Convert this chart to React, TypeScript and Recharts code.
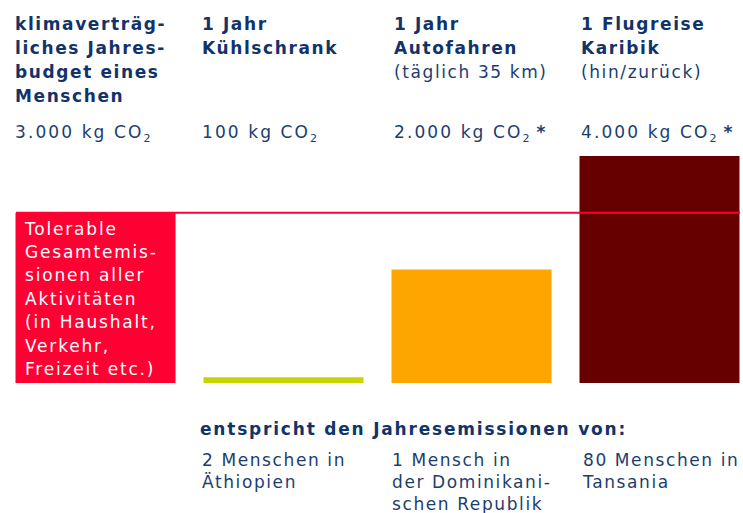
import React from 'react';
import { BarChart, Bar, XAxis, YAxis, Cell, ReferenceLine } from 'recharts';

const categories = ['Budget', 'Kühlschrank', 'Autofahren', 'Flugreise'];
const values = [3000, 100, 2000, 4000];
const barColors = ['#ff0033', '#c8d400', '#ffa500', '#660000'];
const budgetValue = 3000;

const headerBold = [
  ['klimaverträg-', 'liches Jahres-', 'budget eines', 'Menschen'],
  ['1 Jahr', 'Kühlschrank'],
  ['1 Jahr', 'Autofahren'],
  ['1 Flugreise', 'Karibik'],
];
const headerNote = [[], [], ['(täglich 35 km)'], ['(hin/zurück)']];
const amountLabels = ['3.000 kg', '100 kg', '2.000 kg', '4.000 kg'];
const amountStar = [false, false, true, true];
const toleranceLines = [
  'Tolerable',
  'Gesamtemis-',
  'sionen aller',
  'Aktivitäten',
  '(in Haushalt,',
  'Verkehr,',
  'Freizeit etc.)',
];
const equivalentTitle = 'entspricht den Jahresemissionen von:';
const equivalents = [
  [],
  ['2 Menschen in', 'Äthiopien'],
  ['1 Mensch in', 'der Dominikani-', 'schen Republik'],
  ['80 Menschen in', 'Tansania'],
];

const data = categories.map((c, i) => ({ cat: c, v: values[i] }));

const NAVY = '#1b3e6f';
const NAVY_BOLD = '#12336a';
const FONT = '"DejaVu Sans", Verdana, sans-serif';
const colX = [15, 202, 394, 581];
const eqX = [15, 202, 392, 583];

export default function App() {
  return (
    <div
      style={{
        position: 'absolute',
        left: 0,
        top: 0,
        width: 743,
        height: 513,
        overflow: 'hidden',
        background: '#ffffff',
        fontFamily: FONT,
      }}
    >
      <BarChart
        width={743}
        height={513}
        data={data}
        margin={{ top: 156, right: 3, bottom: 130, left: 16 }}
      >
        <XAxis dataKey="cat" hide padding={{ left: -14.5, right: -13.5 }} />
        <YAxis hide domain={[0, 4000]} />
        <Bar dataKey="v" barSize={160} isAnimationActive={false}>
          {data.map((d, i) => (
            <Cell key={d.cat} fill={barColors[i]} />
          ))}
        </Bar>
        <ReferenceLine y={budgetValue} stroke="#ff0033" strokeWidth={2} ifOverflow="visible" />
      </BarChart>

      {headerBold.map((lines, i) => (
        <div
          key={'h' + i}
          style={{
            position: 'absolute',
            left: colX[i],
            top: 11.7,
            fontSize: 17,
            lineHeight: '24px',
            color: NAVY,
            letterSpacing: 1.6,
            whiteSpace: 'nowrap',
          }}
        >
          {lines.map((l) => (
            <div key={l} style={{ fontWeight: 'bold', color: NAVY_BOLD }}>{l}</div>
          ))}
          {headerNote[i].map((l) => (
            <div key={l}>{l}</div>
          ))}
        </div>
      ))}

      {amountLabels.map((a, i) => (
        <div
          key={'a' + i}
          style={{
            position: 'absolute',
            left: colX[i],
            top: 119.7,
            fontSize: 17,
            lineHeight: '24px',
            color: NAVY,
            letterSpacing: 2.1,
            whiteSpace: 'nowrap',
          }}
        >
          {a} CO
          <span style={{ fontSize: 11, position: 'relative', top: 4 }}>2</span>
          {amountStar[i] ? <span style={{ marginLeft: 5, fontWeight: 'bold' }}>*</span> : null}
        </div>
      ))}

      <div
        style={{
          position: 'absolute',
          left: 25,
          top: 217.5,
          fontSize: 17,
          lineHeight: '23.4px',
          color: '#ffffff',
          letterSpacing: 1.8,
          whiteSpace: 'nowrap',
        }}
      >
        {toleranceLines.map((l) => (
          <div key={l}>{l}</div>
        ))}
      </div>

      <div
        style={{
          position: 'absolute',
          left: 200,
          top: 416.5,
          fontSize: 17,
          lineHeight: '24px',
          color: NAVY_BOLD,
          fontWeight: 'bold',
          letterSpacing: 1.8,
          whiteSpace: 'nowrap',
        }}
      >
        {equivalentTitle}
      </div>

      {equivalents.map((lines, i) => (
        <div
          key={'e' + i}
          style={{
            position: 'absolute',
            left: eqX[i],
            top: 449,
            fontSize: 17,
            lineHeight: '22px',
            color: NAVY,
            letterSpacing: 1.6,
            whiteSpace: 'nowrap',
          }}
        >
          {lines.map((l) => (
            <div key={l}>{l}</div>
          ))}
        </div>
      ))}
    </div>
  );
}
